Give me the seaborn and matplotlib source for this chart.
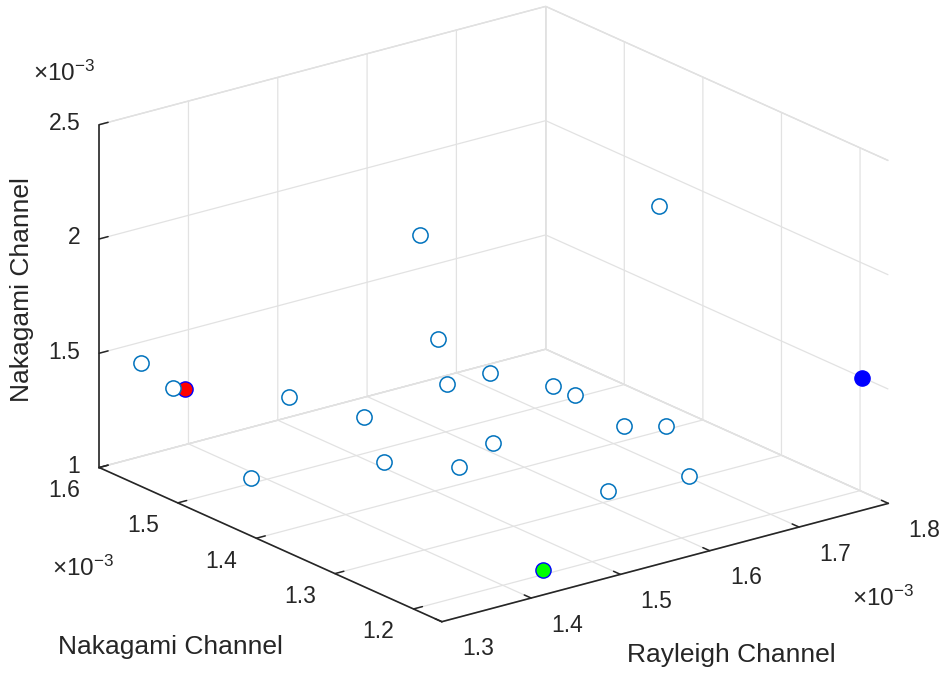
import numpy as np
import pandas as pd
import seaborn as sns
import matplotlib
matplotlib.use("Agg")
import matplotlib.pyplot as plt
from matplotlib.ticker import FixedLocator, FuncFormatter

# Error rates, in units of 10^-3
rayleigh = [1.3275, 1.344, 1.4165, 1.355, 1.467, 1.488, 1.5165, 1.584, 1.4245, 1.511, 1.408,
            1.4725, 1.6555, 1.68, 1.6765, 1.724, 1.673, 1.5825, 1.7345, 1.365, 1.442, 1.8]
nakagami_a = [1.578, 1.556, 1.491, 1.469, 1.382, 1.382, 1.404, 1.426, 1.404, 1.338, 1.360,
              1.338, 1.426, 1.426, 1.360, 1.360, 1.273, 1.273, 1.382, 1.565, 1.196, 1.197]
nakagami_b = [1.465, 1.372, 1.3585, 1.1005, 2.182, 1.7065, 1.4425, 1.387, 1.3945, 1.2955, 1.282,
              1.228, 1.2595, 1.1935, 1.165, 1.1155, 1.0825, 1.1095, 2.0305, 1.330, 1.030, 1.4965]
kind = ["other"] * 19 + ["mark_r", "mark_g", "mark_b"]

x_ticks = [1.3, 1.4, 1.5, 1.6, 1.7, 1.8]
y_ticks = [1.2, 1.3, 1.4, 1.5, 1.6]
z_ticks = [1.0, 1.5, 2.0, 2.5]
x_lim = (1.3, 1.8)
y_lim = (1.164, 1.6)
z_lim = (1.0, 2.5)
SCALE = 1e-3

df = pd.DataFrame({
    "rayleigh": np.array(rayleigh) * SCALE,
    "nakagami_a": np.array(nakagami_a) * SCALE,
    "nakagami_b": np.array(nakagami_b) * SCALE,
    "kind": kind,
})

sns.set_theme(style="white")
plt.rcParams.update({
    "font.family": ["Liberation Sans", "DejaVu Sans"],
    "mathtext.default": "regular",
    "grid.color": "#E2E2E2",
    "grid.linewidth": 0.9,
    "xtick.color": "#262626",
    "ytick.color": "#262626",
    "xtick.major.width": 1.1,
    "ytick.major.width": 1.1,
})

W, H = 944, 673
INK = "#262626"
fig = plt.figure(figsize=(W / 100, H / 100), dpi=100)
ax = fig.add_axes([0, 0, 1, 1], projection="3d")
ax.set_proj_type("ortho")
ax.view_init(elev=20.2, azim=-127.5)
ax.set_box_aspect((1, 1, 0.649))
ax.set_xlim(x_lim[0] * SCALE, x_lim[1] * SCALE)
ax.set_ylim(y_lim[0] * SCALE, y_lim[1] * SCALE)
ax.set_zlim(z_lim[0] * SCALE, z_lim[1] * SCALE)

# tick labels are written below as plain text, next to each tick mark
blank = FuncFormatter(lambda v, _: "")
for axis, ticks in ((ax.xaxis, x_ticks), (ax.yaxis, y_ticks), (ax.zaxis, z_ticks)):
    axis.set_major_locator(FixedLocator([t * SCALE for t in ticks]))
    axis.set_major_formatter(blank)
    axis.set_pane_color((1, 1, 1, 1))
    axis.pane.set_edgecolor("#DADADA")
    axis.pane.set_linewidth(1.0)
    axis.line.set_color(INK)
    axis.line.set_linewidth(1.2)
    axis._axinfo["tick"]["inward_factor"] = 0.0
    axis._axinfo["tick"]["outward_factor"] = 0.25
    axis._axinfo["grid"]["color"] = "#E2E2E2"
    axis._axinfo["grid"]["linewidth"] = 0.9

for a in ("x", "y", "z"):
    ax.tick_params(axis=a, colors=INK)

styles = {
    "other": dict(facecolors="white", edgecolors="#0072BD", linewidths=1.1),
    "mark_r": dict(facecolors="#FF0000", edgecolors="#0000FF", linewidths=1.0),
    "mark_g": dict(facecolors="#00FF00", edgecolors="#0000FF", linewidths=1.0),
    "mark_b": dict(facecolors="#0000FF", edgecolors="#0000FF", linewidths=1.0),
}
for k in ["other", "mark_r", "mark_g", "mark_b"]:
    sub = df[df["kind"] == k]
    ax.scatter(sub["rayleigh"], sub["nakagami_a"], sub["nakagami_b"], s=120,
               depthshade=False, **styles[k])

# Place the projected box: corners of the floor and the top of the back edge
def axes_frac(px, py, pz):
    M = ax.get_proj()
    v = M @ np.array([px, py, pz, 1.0])
    return ax.transLimits.transform((v[0] / v[3], v[1] / v[3]))

xl, yl, zl = ax.get_xlim(), ax.get_ylim(), ax.get_zlim()
n = np.array([
    axes_frac(xl[0], yl[1], zl[0]),   # left
    axes_frac(xl[1], yl[0], zl[0]),   # right
    axes_frac(xl[0], yl[0], zl[0]),   # front
    axes_frac(xl[1], yl[1], zl[1]),   # back top
])
t = np.array([[100, H - 467], [887, H - 505], [443, H - 622], [545, H - 5]], dtype=float)
S = ((t[1, 0] - t[0, 0]) / (n[1, 0] - n[0, 0]) + (t[3, 1] - t[2, 1]) / (n[3, 1] - n[2, 1])) / 2
off = (t - S * n).mean(axis=0)
ax.set_position([off[0] / W, off[1] / H, S / W, S / H])


def to_px(px, py, pz):
    """Figure pixel position (origin bottom-left) of a data point."""
    return off + S * axes_frac(px, py, pz)


TICK_FS = 16.5
for v in x_ticks:
    p = to_px(v * SCALE, yl[0], zl[0])
    fig.text((p[0] + 36) / W, (p[1] - 27) / H, f"{v:g}", ha="center", va="center",
             fontsize=TICK_FS, color=INK)
for v in y_ticks:
    p = to_px(xl[0], v * SCALE, zl[0])
    fig.text((p[0] - 35) / W, (p[1] - 23) / H, f"{v:g}", ha="center", va="center",
             fontsize=TICK_FS, color=INK)
for v in z_ticks:
    p = to_px(xl[0], yl[1], v * SCALE)
    fig.text((p[0] - 19) / W, (p[1] + 1) / H, f"{v:g}", ha="right", va="center",
             fontsize=TICK_FS, color=INK)

fig.text(22 / W, 1 - 290 / H, "Nakagami Channel", rotation=90, ha="center", va="center",
         fontsize=19, color=INK)
fig.text(170 / W, 1 - 647 / H, "Nakagami Channel", ha="center", va="center", fontsize=19,
         color=INK)
fig.text(731 / W, 1 - 655 / H, "Rayleigh Channel", ha="center", va="center", fontsize=19,
         color=INK)
for (px, py) in [(64, 73), (83, 568), (883, 598)]:
    fig.text(px / W, 1 - py / H, r"$\times$10$^{-3}$", ha="center", va="center",
             fontsize=17.5, color=INK)

fig.savefig("out.png", dpi=100)
